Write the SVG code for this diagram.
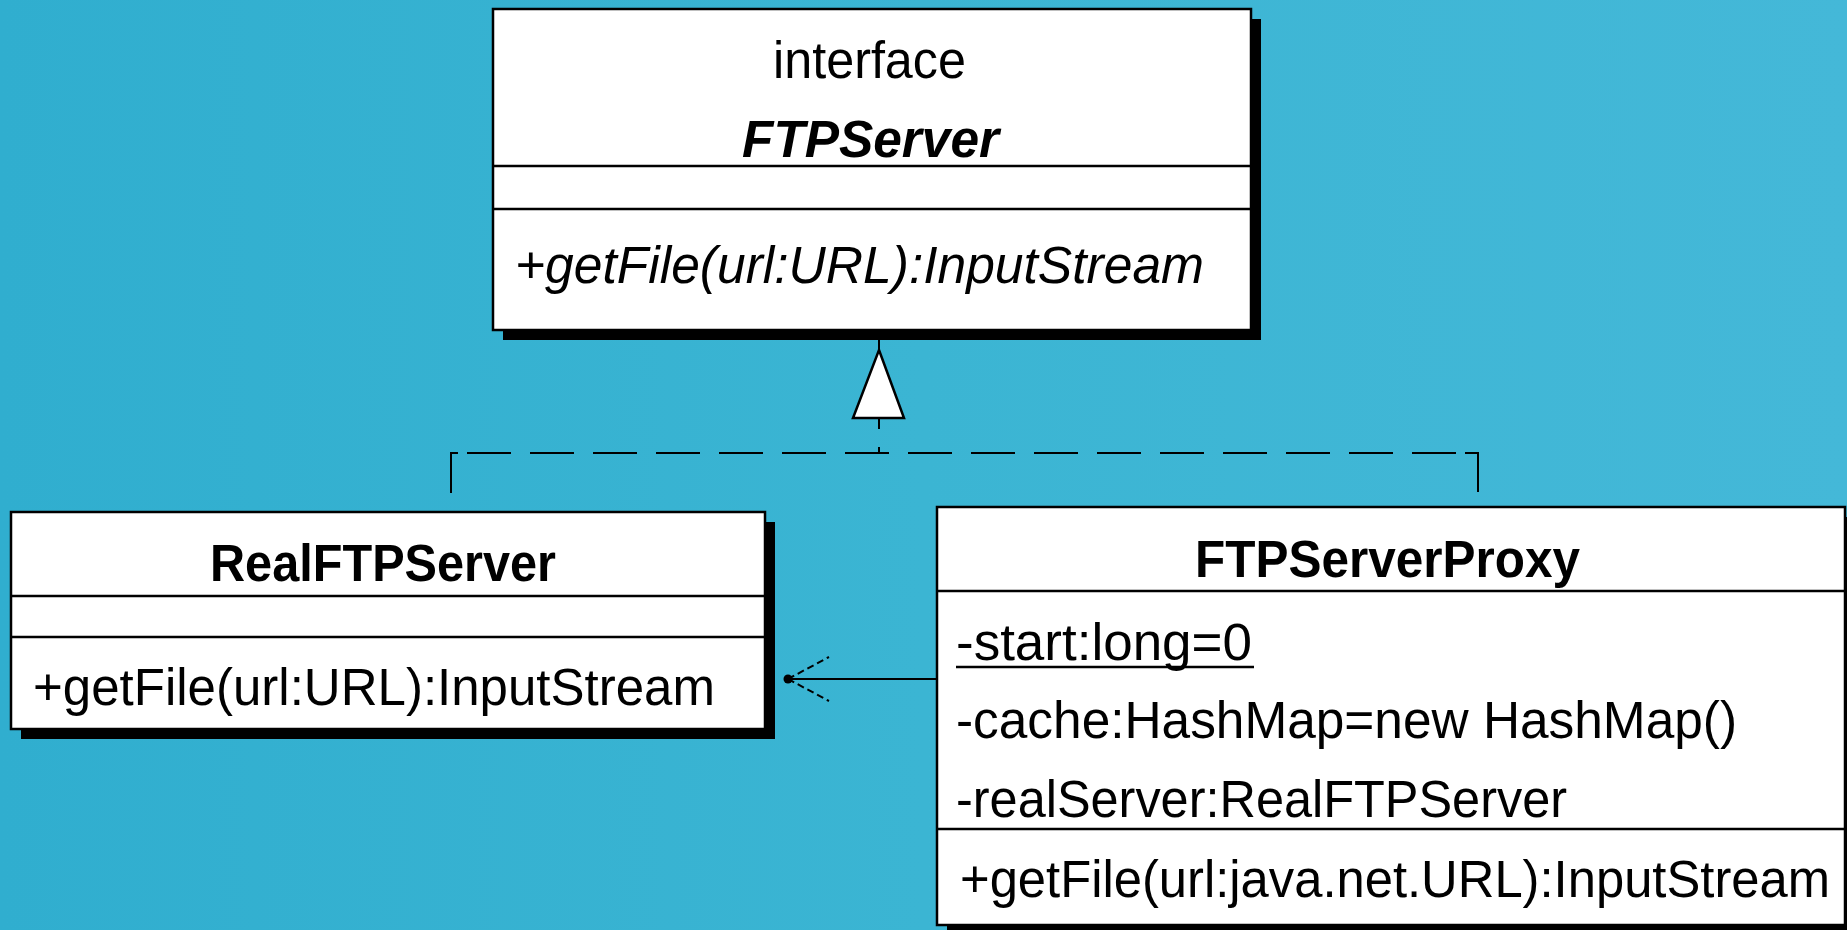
<svg xmlns="http://www.w3.org/2000/svg" width="1847" height="930" viewBox="0 0 1847 930">
  <defs>
    <linearGradient id="bg" x1="0" y1="0" x2="1" y2="0">
      <stop offset="0" stop-color="#30aecf"/>
      <stop offset="0.5" stop-color="#3bb5d3"/>
      <stop offset="1" stop-color="#44b8d8"/>
    </linearGradient>
    <style>
      .box { fill: #ffffff; stroke: #000000; stroke-width: 2.5; }
      .shadow { fill: #000000; }
      .sep { stroke: #000000; stroke-width: 2.5; }
      .t { font-family: "Liberation Sans", Arial, sans-serif; font-size: 51px; fill: #000000; }
      .b { font-weight: bold; }
      .i { font-style: italic; }
      .edge { stroke: #000000; stroke-width: 2; fill: none; }
      .dash { stroke-dasharray: 44 19; }
    </style>
  </defs>
  <rect x="0" y="0" width="1847" height="930" fill="url(#bg)"/>

  <g id="FTPServer">
    <rect class="shadow" x="503" y="19" width="758" height="321"/>
    <rect class="box" x="493" y="9" width="758" height="321"/>
    <line class="sep" x1="493" y1="166" x2="1251" y2="166"/>
    <line class="sep" x1="493" y1="209" x2="1251" y2="209"/>
    <text class="t" x="773" y="78" textLength="193" lengthAdjust="spacingAndGlyphs">interface</text>
    <text class="t b i" x="742" y="157" textLength="257" lengthAdjust="spacingAndGlyphs">FTPServer</text>
    <text class="t i" x="515" y="283" textLength="689" lengthAdjust="spacingAndGlyphs">+getFile(url:URL):InputStream</text>
  </g>

  <g id="RealFTPServer">
    <rect class="shadow" x="21" y="522" width="754" height="217"/>
    <rect class="box" x="11" y="512" width="754" height="217"/>
    <line class="sep" x1="11" y1="596" x2="765" y2="596"/>
    <line class="sep" x1="11" y1="637" x2="765" y2="637"/>
    <text class="t b" x="210" y="581" textLength="346" lengthAdjust="spacingAndGlyphs">RealFTPServer</text>
    <text class="t" x="33" y="705" textLength="682" lengthAdjust="spacingAndGlyphs">+getFile(url:URL):InputStream</text>
  </g>

  <g id="FTPServerProxy">
    <rect class="shadow" x="947" y="517" width="908" height="418"/>
    <rect class="box" x="937" y="507" width="908" height="418"/>
    <line class="sep" x1="937" y1="591" x2="1845" y2="591"/>
    <line class="sep" x1="937" y1="829" x2="1845" y2="829"/>
    <text class="t b" x="1195" y="577" textLength="385" lengthAdjust="spacingAndGlyphs">FTPServerProxy</text>
    <text class="t" x="956" y="660" textLength="296" lengthAdjust="spacingAndGlyphs">-start:long=0</text>
    <line x1="956" y1="667" x2="1254" y2="667" stroke="#000" stroke-width="2.5"/>
    <text class="t" x="956" y="738" textLength="781" lengthAdjust="spacingAndGlyphs">-cache:HashMap=new HashMap()</text>
    <text class="t" x="956" y="817" textLength="611" lengthAdjust="spacingAndGlyphs">-realServer:RealFTPServer</text>
    <text class="t" x="960" y="897" textLength="870" lengthAdjust="spacingAndGlyphs">+getFile(url:java.net.URL):InputStream</text>
  </g>

  <g id="connectors">
    <!-- realization -->
    <line class="edge" x1="879" y1="340" x2="879" y2="350"/>
    <polygon points="879,350 904,418 853,418" fill="#ffffff" stroke="#000000" stroke-width="2.5"/>
    <line class="edge" x1="879" y1="418" x2="879" y2="429"/>
    <line class="edge" x1="879" y1="447" x2="879" y2="453"/>
    <line class="edge dash" x1="467" y1="453" x2="1478" y2="453"/>
    <polyline class="edge" points="451,493 451,453 458,453"/>
    <polyline class="edge" points="1465,453 1478,453 1478,492"/>
    <!-- association -->
    <line class="edge" x1="788" y1="679" x2="937" y2="679"/>
    <circle cx="788" cy="679" r="4.5" fill="#000000"/>
    <line class="edge" x1="788" y1="679" x2="829" y2="657" stroke-dasharray="7 4"/>
    <line class="edge" x1="788" y1="679" x2="829" y2="701" stroke-dasharray="7 4"/>
  </g>
</svg>
